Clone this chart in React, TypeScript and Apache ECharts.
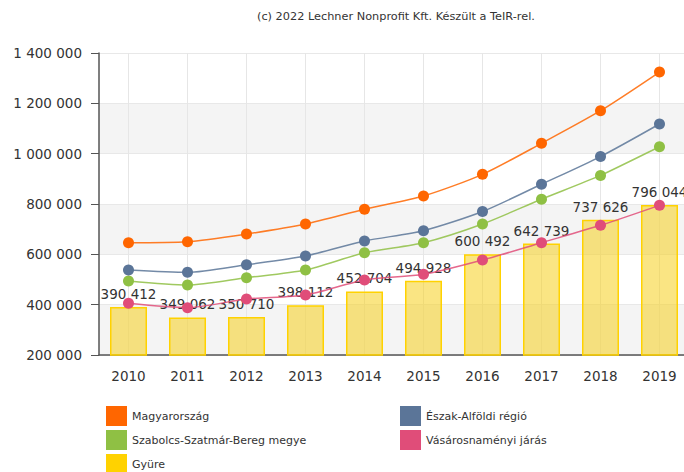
import React, { useEffect, useRef } from "react";
import * as echarts from "echarts";

const years = ["2010", "2011", "2012", "2013", "2014", "2015", "2016", "2017", "2018", "2019"];
const magyarorszag = [646200, 650100, 680700, 720500, 778900, 831700, 917900, 1041100, 1170600, 1324400];
const eszakAlfold = [537700, 528600, 558800, 593300, 652900, 694000, 770000, 878500, 988500, 1117800];
const szabolcs = [494000, 478100, 507100, 537700, 606400, 646200, 720500, 819000, 913500, 1027600];
const vasarosnameny = [405400, 388000, 422500, 438400, 498000, 520600, 577400, 646200, 715300, 794700];
const gyure = [390412, 349062, 350710, 398112, 452704, 494928, 600492, 642739, 737626, 796044];

const yTicks = { min: 200000, max: 1400000, interval: 200000 };

const names = {
  hu: "Magyarország",
  ea: "Észak-Alföldi régió",
  sz: "Szabolcs-Szatmár-Bereg megye",
  va: "Vásárosnaményi járás",
  gy: "Gyüre",
};

const colors = {
  hu: "#ff6600",
  ea: "#5b7598",
  sz: "#8fc044",
  va: "#e04d79",
  gy: "#ffd200",
};

// legend order: rows of two columns
const legendOrder: (keyof typeof names)[][] = [
  ["hu", "ea"],
  ["sz", "va"],
  ["gy"],
];

const fmt = (v: number) => String(Math.round(v)).replace(/\B(?=(\d{3})+(?!\d))/g, " ");
const FONT = "DejaVu Sans";

export default function App() {
  const ref = useRef<HTMLDivElement>(null);
  useEffect(() => {
    if (!ref.current) return;
    const chart = echarts.init(ref.current, undefined, { renderer: "svg" });
    const lineSeries = (key: keyof typeof names, data: number[], z: number) => ({
      name: names[key],
      type: "line",
      data,
      smooth: 0.25,
      symbol: "circle",
      symbolSize: 11,
      z,
      itemStyle: { color: colors[key] },
      lineStyle: { color: colors[key], width: 1.5, opacity: 0.85 },
    });
    const legends: any[] = [];
    legendOrder.forEach((row, r) => {
      row.forEach((key, c) => {
        legends.push({
          left: c === 0 ? 106 : 400,
          top: 406 + r * 24,
          padding: 0,
          icon: "rect",
          itemWidth: 21,
          itemHeight: 20,
          selectedMode: false,
          textStyle: { fontFamily: FONT, fontSize: 11, color: "#333" },
          data: [{ name: names[key], itemStyle: { color: colors[key], borderWidth: 0 } }],
        });
      });
    });
    chart.setOption({
      animation: false,
      title: {
        text: "(c) 2022 Lechner Nonprofit Kft. Készült a TeIR-rel.",
        left: 252,
        top: 6,
        textStyle: { fontFamily: FONT, fontSize: 11.3, fontWeight: "normal", color: "#333" },
      },
      grid: { left: 99, top: 53, width: 590, height: 302, outerBoundsMode: "none", containLabel: false },
      legend: legends,
      xAxis: {
        type: "category",
        data: years,
        axisLine: { lineStyle: { color: "#555", width: 1.5 } },
        axisTick: { alignWithLabel: true, length: 5, lineStyle: { color: "#555" } },
        axisLabel: { fontFamily: FONT, fontSize: 13.5, color: "#333", margin: 14 },
        splitLine: { show: true, alignWithLabel: true, lineStyle: { color: "#e6e6e6" } },
      },
      yAxis: {
        type: "value",
        min: yTicks.min,
        max: yTicks.max,
        interval: yTicks.interval,
        axisLine: { show: true, lineStyle: { color: "#555", width: 1.5 } },
        axisTick: { show: true, length: 8, lineStyle: { color: "#555" } },
        axisLabel: { fontFamily: FONT, fontSize: 13.5, color: "#333", margin: 17, formatter: fmt },
        splitLine: { show: true, lineStyle: { color: "#e8e8e8" } },
        splitArea: { show: true, areaStyle: { color: ["#f4f4f4", "#ffffff"] } },
      },
      series: [
        {
          name: names.gy,
          type: "bar",
          data: gyure,
          barWidth: 37,
          z: 1,
          itemStyle: { color: "rgba(245, 208, 30, 0.55)", borderColor: "#ffd200", borderWidth: 1.5 },
          label: {
            show: true,
            position: "top",
            distance: 6,
            fontFamily: FONT,
            fontSize: 13.5,
            color: "#333",
            formatter: (p: any) => fmt(p.value),
          },
        },
        lineSeries("hu", magyarorszag, 5),
        lineSeries("ea", eszakAlfold, 4),
        lineSeries("sz", szabolcs, 3),
        lineSeries("va", vasarosnameny, 2),
      ],
    });
    return () => chart.dispose();
  }, []);
  return (
    <div
      ref={ref}
      style={{ position: "fixed", left: 0, top: 0, width: 684, height: 472, background: "#fff" }}
    />
  );
}
